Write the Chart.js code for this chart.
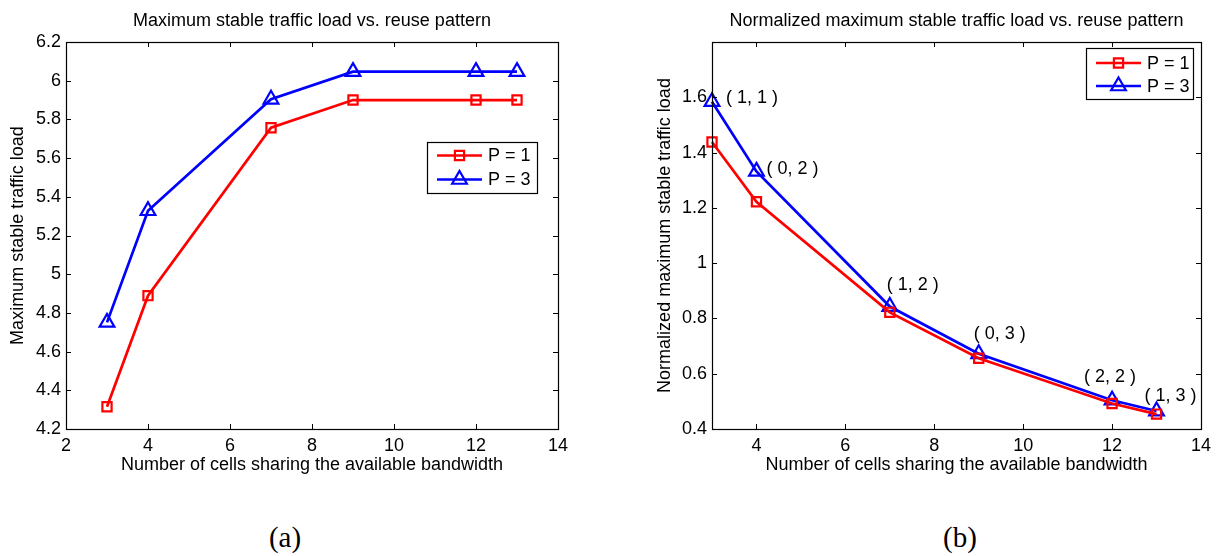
<!DOCTYPE html>
<html><head><meta charset="utf-8">
<script src="https://cdn.jsdelivr.net/npm/chart.js@4.4.1/dist/chart.umd.min.js"></script>
<style>
html,body{margin:0;padding:0;background:#fff;width:1217px;height:556px;overflow:hidden;}
#wa{position:absolute;left:0;top:0;width:600px;height:490px;}
#wb{position:absolute;left:600px;top:0;width:617px;height:490px;}
.cap{position:absolute;top:537px;font-family:"Liberation Serif","Times New Roman",serif;font-size:29px;color:#000;transform:translate(-50%,-50%);white-space:nowrap;}
</style></head><body>
<div id="wa"><canvas id="ca"></canvas></div>
<div id="wb"><canvas id="cb"></canvas></div>
<div class="cap" style="left:285px">(a)</div>
<div class="cap" style="left:960px">(b)</div>
<script>
// ---- data ----
const cells = [3, 4, 7, 9, 12, 13];
const loadP1 = [4.315, 4.889, 5.757, 5.900, 5.900, 5.900];
const loadP3 = [4.751, 5.328, 5.904, 6.047, 6.047, 6.047];
const normP1 = [1.438, 1.222, 0.822, 0.656, 0.492, 0.454];
const normP3 = [1.584, 1.332, 0.843, 0.672, 0.504, 0.465];
const seriesNames = ['P = 1', 'P = 3'];
const reuseLabels = ['( 1, 1 )', '( 0, 2 )', '( 1, 2 )', '( 0, 3 )', '( 2, 2 )', '( 1, 3 )'];
const xTicksA = [2, 4, 6, 8, 10, 12, 14];
const xTickLabelsA = ['2', '4', '6', '8', '10', '12', '14'];
const yTicksA = [4.2, 4.4, 4.6, 4.8, 5.0, 5.2, 5.4, 5.6, 5.8, 6.0, 6.2];
const yTickLabelsA = ['4.2', '4.4', '4.6', '4.8', '5', '5.2', '5.4', '5.6', '5.8', '6', '6.2'];
const xTicksB = [4, 6, 8, 10, 12, 14];
const xTickLabelsB = ['4', '6', '8', '10', '12', '14'];
const yTicksB = [0.4, 0.6, 0.8, 1.0, 1.2, 1.4, 1.6];
const yTickLabelsB = ['0.4', '0.6', '0.8', '1', '1.2', '1.4', '1.6'];
const titleA = 'Maximum stable traffic load vs. reuse pattern';
const titleB = 'Normalized maximum stable traffic load vs. reuse pattern';
const xTitle = 'Number of cells sharing the available bandwidth';
const yTitleA = 'Maximum stable traffic load';
const yTitleB = 'Normalized maximum stable traffic load';

// ---- styles ----
const FAM = '"Liberation Sans", Arial, Helvetica, sans-serif';
const FS = 18;
const RED = '#ff0000', BLUE = '#0000ff';

function pts(xs, ys) { return xs.map((x, i) => ({x: x, y: ys[i]})); }

function ds(label, data, color, style, r) {
  return {
    label: label, data: data, borderColor: color, borderWidth: 2.7,
    pointStyle: style, pointRadius: r, pointHoverRadius: r,
    pointBorderColor: color, pointBackgroundColor: 'rgba(0,0,0,0)', pointBorderWidth: 2.2,
    tension: 0, fill: false, clip: false
  };
}

const framePlugin = {
  id: 'frame',
  afterDatasetsDraw(chart) {
    const {ctx, chartArea: a} = chart;
    const x = chart.scales.x, y = chart.scales.y;
    const L = 5;
    ctx.save();
    ctx.strokeStyle = '#000'; ctx.lineWidth = 1;
    ctx.beginPath();
    x.ticks.forEach(t => {
      const px = Math.round(x.getPixelForValue(t.value)) + 0.5;
      ctx.moveTo(px, a.bottom); ctx.lineTo(px, a.bottom - L);
      ctx.moveTo(px, a.top); ctx.lineTo(px, a.top + L);
    });
    y.ticks.forEach(t => {
      const py = Math.round(y.getPixelForValue(t.value)) + 0.5;
      ctx.moveTo(a.left, py); ctx.lineTo(a.left + L, py);
      ctx.moveTo(a.right, py); ctx.lineTo(a.right - L, py);
    });
    ctx.stroke();
    ctx.lineWidth = 1.2;
    ctx.strokeRect(Math.round(a.left) + 0.5, Math.round(a.top) + 0.5,
                   Math.round(a.right - a.left), Math.round(a.bottom - a.top));
    ctx.restore();
  }
};

function marker(ctx, style, x, y, r) {
  ctx.beginPath();
  if (style === 'rect') {
    const s = Math.SQRT1_2 * r;
    ctx.rect(x - s, y - s, 2 * s, 2 * s);
  } else {
    let rad = 0;
    ctx.moveTo(x + Math.sin(rad) * r, y - Math.cos(rad) * r);
    rad += 2 * Math.PI / 3;
    ctx.lineTo(x + Math.sin(rad) * r, y - Math.cos(rad) * r);
    rad += 2 * Math.PI / 3;
    ctx.lineTo(x + Math.sin(rad) * r, y - Math.cos(rad) * r);
    ctx.closePath();
  }
  ctx.stroke();
}

const boxLegendPlugin = {
  id: 'boxLegend',
  afterDraw(chart, args, opts) {
    const ctx = chart.ctx;
    ctx.save();
    ctx.fillStyle = '#fff';
    ctx.fillRect(opts.x, opts.y, opts.w, opts.h);
    ctx.strokeStyle = '#000'; ctx.lineWidth = 1.2;
    ctx.strokeRect(opts.x + 0.5, opts.y + 0.5, opts.w, opts.h);
    chart.data.datasets.forEach((d, i) => {
      const yy = opts.y + opts.rows[i];
      const x0 = opts.x + 10, x1 = opts.x + 55;
      ctx.strokeStyle = d.borderColor; ctx.lineWidth = d.borderWidth;
      ctx.beginPath(); ctx.moveTo(x0, yy); ctx.lineTo(x1, yy); ctx.stroke();
      ctx.lineWidth = d.pointBorderWidth;
      marker(ctx, d.pointStyle, (x0 + x1) / 2, yy, d.pointRadius);
      ctx.fillStyle = '#000';
      ctx.font = FS + 'px ' + FAM;
      ctx.textAlign = 'left'; ctx.textBaseline = 'middle';
      ctx.fillText(d.label, opts.x + 61, yy + 1);
    });
    ctx.restore();
  }
};

const pointLabelPlugin = {
  id: 'pointLabels',
  afterDatasetsDraw(chart, args, opts) {
    if (!opts.texts) return;
    const ctx = chart.ctx;
    const meta = chart.getDatasetMeta(opts.dataset);
    ctx.save();
    ctx.fillStyle = '#000';
    ctx.font = FS + 'px ' + FAM;
    ctx.textAlign = 'left'; ctx.textBaseline = 'middle';
    opts.texts.forEach((t, i) => {
      const el = meta.data[i];
      const o = opts.offsets[i];
      ctx.fillText(t, el.x + o[0], el.y + o[1]);
    });
    ctx.restore();
  }
};

function makeChart(id, c) {
  return new Chart(document.getElementById(id), {
    type: 'line',
    data: {datasets: c.datasets},
    plugins: [framePlugin, pointLabelPlugin, boxLegendPlugin],
    options: {
      responsive: true, maintainAspectRatio: false, animation: false,
      events: [],
      layout: {padding: c.padding},
      scales: {
        x: {
          type: 'linear', min: c.xmin, max: c.xmax,
          grid: {display: false, drawTicks: false},
          border: {display: false},
          afterBuildTicks: s => { s.ticks = c.xTicks.map(v => ({value: v})); },
          afterFit: s => { s.height = 50; },
          ticks: {
            padding: 6, color: '#000', maxRotation: 0, autoSkip: false,
            font: {family: FAM, size: FS},
            callback: (v, i) => c.xLabels[i]
          },
          title: {display: true, text: xTitle, color: '#000',
                  font: {family: FAM, size: FS}, padding: {top: 0, bottom: 3}}
        },
        y: {
          type: 'linear', min: c.ymin, max: c.ymax,
          grid: {display: false, drawTicks: false},
          border: {display: false},
          afterBuildTicks: s => { s.ticks = c.yTicks.map(v => ({value: v})); },
          afterFit: s => { s.width = c.yw; },
          ticks: {
            padding: 5, color: '#000', autoSkip: false,
            font: {family: FAM, size: FS},
            callback: (v, i) => c.yLabels[i]
          },
          title: {display: true, text: c.yTitle, color: '#000',
                  font: {family: FAM, size: FS}, padding: {top: c.ytPad, bottom: 0}}
        }
      },
      plugins: {
        legend: {display: false},
        tooltip: {enabled: false},
        title: {
          display: true, text: c.title, color: '#000', fullSize: false,
          font: {family: FAM, size: FS, weight: 'normal'},
          padding: {top: 10.5, bottom: 9.9}
        },
        boxLegend: c.legend,
        pointLabels: c.pointLabels || {}
      }
    }
  });
}

makeChart('ca', {
  datasets: [ds(seriesNames[0], pts(cells, loadP1), RED, 'rect', 6.5),
             ds(seriesNames[1], pts(cells, loadP3), BLUE, 'triangle', 8.5)],
  padding: {left: 0, right: 42, top: 0, bottom: 11},
  xmin: 2, xmax: 14, ymin: 4.2, ymax: 6.2,
  xTicks: xTicksA, xLabels: xTickLabelsA, yTicks: yTicksA, yLabels: yTickLabelsA,
  yw: 66, ytPad: 7, yTitle: yTitleA, title: titleA,
  legend: {x: 427, y: 142, w: 110, h: 51, rows: [13.5, 37.5]}
});

makeChart('cb', {
  datasets: [ds(seriesNames[0], pts(cells, normP1), RED, 'rect', 6.5),
             ds(seriesNames[1], pts(cells, normP3), BLUE, 'triangle', 8.5)],
  padding: {left: 0, right: 14, top: 0, bottom: 11},
  xmin: 3, xmax: 14, ymin: 0.4, ymax: 1.8,
  xTicks: xTicksB, xLabels: xTickLabelsB, yTicks: yTicksB, yLabels: yTickLabelsB,
  yw: 112, ytPad: 54, yTitle: yTitleB, title: titleB,
  legend: {x: 486, y: 48, w: 107, h: 51, rows: [15, 38]},
  pointLabels: {dataset: 1, texts: reuseLabels,
    offsets: [[14, -4], [10, -2], [-3, -22], [-5, -20], [-28, -23], [-12, -15]]}
});
</script>
</body></html>
